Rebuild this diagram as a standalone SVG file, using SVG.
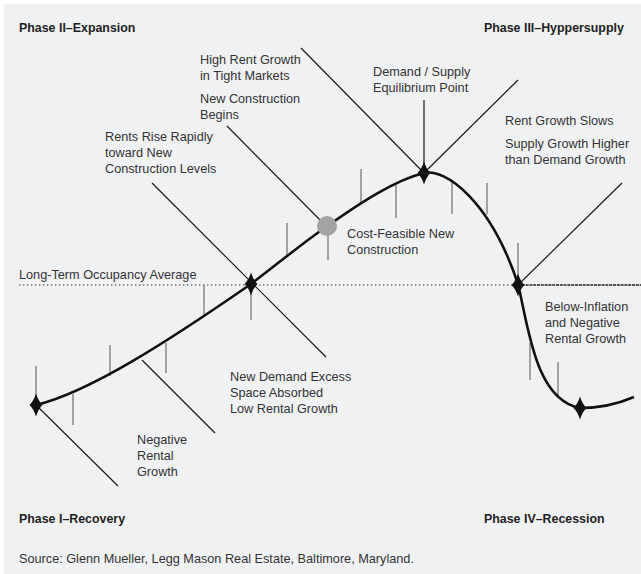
<svg xmlns="http://www.w3.org/2000/svg" width="641" height="574" viewBox="0 0 641 574">
<style>
.t{font-family:"Liberation Sans",Arial,sans-serif;font-size:12.7px;fill:#333}
.b{font-family:"Liberation Sans",Arial,sans-serif;font-size:12.4px;font-weight:bold;fill:#222}
.tick{stroke:#555;stroke-width:1;fill:none}
.diag{stroke:#1a1a1a;stroke-width:1.2;fill:none}
.curve{stroke:#111;stroke-width:2.6;fill:none}
.dia{fill:#111}
</style>
<defs>
<path id="dmd" d="M0,-11.5 Q2.4,-3.8 6.5,0 Q2.4,3.8 0,11.5 Q-2.4,3.8 -6.5,0 Q-2.4,-3.8 0,-11.5Z"/>
</defs>
<rect x="0" y="0" width="641" height="574" fill="#ffffff"/>
<rect x="4" y="4" width="637" height="570" fill="#f0f1f3"/>

<g id="connectors">
<line x1="19" y1="285" x2="518" y2="285" stroke="#333" stroke-width="1.2" stroke-dasharray="1.4 2.6"/>
<line x1="518" y1="285" x2="641" y2="285" stroke="#222" stroke-width="1.3" stroke-dasharray="3 0.8"/>
<line class="diag" x1="36" y1="405" x2="118" y2="486"/>
<line class="diag" x1="142" y1="360" x2="215" y2="433"/>
<line class="diag" x1="152" y1="183" x2="326" y2="357"/>
<line class="diag" x1="227" y1="126" x2="326" y2="226"/>
<line class="diag" x1="301" y1="48" x2="424" y2="173"/>
<line class="diag" x1="424" y1="173" x2="518" y2="80"/>
<line class="diag" x1="424" y1="100" x2="424" y2="173"/>
<line class="diag" x1="518" y1="285" x2="622" y2="183"/>
<line class="tick" x1="36" y1="366" x2="36" y2="405"/>
<line class="tick" x1="73" y1="394" x2="73" y2="425"/>
<line class="tick" x1="110" y1="345" x2="110" y2="376"/>
<line class="tick" x1="166" y1="343" x2="166" y2="373"/>
<line class="tick" x1="204" y1="285" x2="204" y2="316"/>
<line class="tick" x1="251" y1="284" x2="251" y2="320"/>
<line class="tick" x1="287" y1="223" x2="287" y2="256"/>
<line class="tick" x1="328" y1="230" x2="328" y2="260"/>
<line class="tick" x1="361" y1="169" x2="361" y2="203"/>
<line class="tick" x1="396" y1="185" x2="396" y2="218"/>
<line class="tick" x1="452" y1="180" x2="452" y2="214"/>
<line class="tick" x1="487" y1="183" x2="487" y2="214"/>
<line class="tick" x1="518" y1="243" x2="518" y2="285"/>
<line class="tick" x1="530" y1="343" x2="530" y2="380"/>
<line class="tick" x1="558" y1="362" x2="558" y2="397"/>
<path class="curve" d="M36,405 C90,392 170,340 251,284 C280,262 300,245 326,227 C360,203 395,180 424,173 C445,168 490,200 518,284 C528,325 535,400 580,408 C600,408 620,403 634,397"/>
</g>

<g id="node-recovery-low"><use href="#dmd" class="dia" x="36" y="405"/></g>
<g id="node-occupancy-avg"><use href="#dmd" class="dia" x="251" y="284"/></g>
<g id="node-cost-feasible"><circle cx="327" cy="226" r="10" fill="#a3a3a3"/></g>
<g id="node-equilibrium"><use href="#dmd" class="dia" x="424" y="173"/></g>
<g id="node-hypersupply"><use href="#dmd" class="dia" x="518" y="285"/></g>
<g id="node-recession-low"><use href="#dmd" class="dia" x="580" y="408"/></g>

<g id="labels">
<text class="b" x="19" y="32">Phase II–Expansion</text>
<text class="b" x="484" y="32">Phase III–Hyppersupply</text>
<text class="b" x="19" y="523">Phase I–Recovery</text>
<text class="b" x="484" y="523">Phase IV–Recession</text>
<text class="t" x="200" y="64">High Rent Growth</text>
<text class="t" x="200" y="80">in Tight Markets</text>
<text class="t" x="200" y="103">New Construction</text>
<text class="t" x="200" y="119">Begins</text>
<text class="t" x="105" y="141">Rents Rise Rapidly</text>
<text class="t" x="105" y="157">toward New</text>
<text class="t" x="105" y="173">Construction Levels</text>
<text class="t" x="373" y="76">Demand / Supply</text>
<text class="t" x="373" y="92">Equilibrium Point</text>
<text class="t" x="505" y="125">Rent Growth Slows</text>
<text class="t" x="505" y="148">Supply Growth Higher</text>
<text class="t" x="505" y="164">than Demand Growth</text>
<text class="t" x="19" y="279">Long-Term Occupancy Average</text>
<text class="t" x="347" y="238">Cost-Feasible New</text>
<text class="t" x="347" y="254">Construction</text>
<text class="t" x="545" y="311">Below-Inflation</text>
<text class="t" x="545" y="327">and Negative</text>
<text class="t" x="545" y="343">Rental Growth</text>
<text class="t" x="230" y="381">New Demand Excess</text>
<text class="t" x="230" y="397">Space Absorbed</text>
<text class="t" x="230" y="413">Low Rental Growth</text>
<text class="t" x="137" y="444">Negative</text>
<text class="t" x="137" y="460">Rental</text>
<text class="t" x="137" y="476">Growth</text>
<text class="t" x="19" y="563">Source: Glenn Mueller, Legg Mason Real Estate, Baltimore, Maryland.</text>
</g>
</svg>
